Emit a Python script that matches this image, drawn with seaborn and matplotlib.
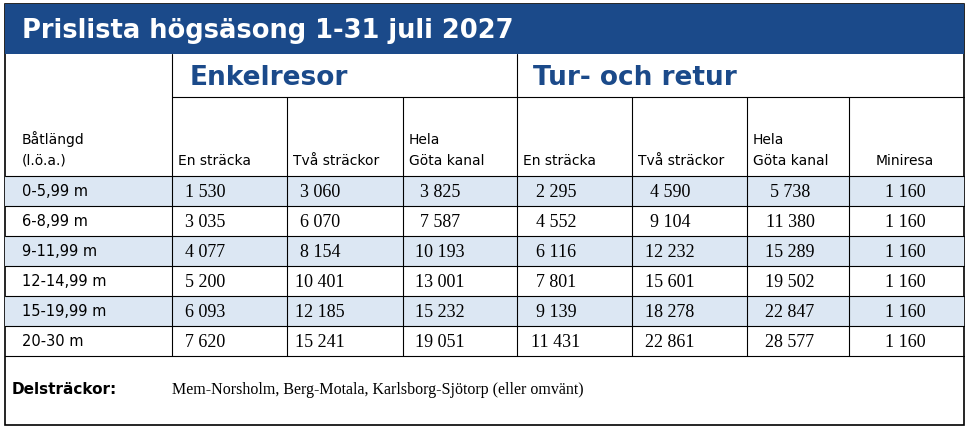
import matplotlib
matplotlib.use("Agg")
import matplotlib.pyplot as plt
import seaborn as sns

sns.set_theme(style="white")
plt.rcParams["text.color"] = "black"

title = "Prislista högsäsong 1-31 juli 2027"
groups = ["Enkelresor", "Tur- och retur"]
col_headers = ["En sträcka", "Två sträckor", "Hela\nGöta kanal", "En sträcka", "Två sträckor", "Hela\nGöta kanal", "Miniresa"]
row_header = "Båtlängd\n(l.ö.a.)"
rows = ["0-5,99 m", "6-8,99 m", "9-11,99 m", "12-14,99 m", "15-19,99 m", "20-30 m"]
values = [
    ["1 530", "3 060", "3 825", "2 295", "4 590", "5 738", "1 160"],
    ["3 035", "6 070", "7 587", "4 552", "9 104", "11 380", "1 160"],
    ["4 077", "8 154", "10 193", "6 116", "12 232", "15 289", "1 160"],
    ["5 200", "10 401", "13 001", "7 801", "15 601", "19 502", "1 160"],
    ["6 093", "12 185", "15 232", "9 139", "18 278", "22 847", "1 160"],
    ["7 620", "15 241", "19 051", "11 431", "22 861", "28 577", "1 160"],
]
footer_label = "Delsträckor:"
footer_text = "Mem-Norsholm, Berg-Motala, Karlsborg-Sjötorp (eller omvänt)"

blue = "#1b4a8a"
band = "#dce7f3"
sans = ["Liberation Sans Narrow", "DejaVu Sans"]
serif = ["Liberation Serif", "DejaVu Serif"]

fig = plt.figure(figsize=(9.7, 4.31), dpi=100)
ax = fig.add_axes([0, 0, 1, 1])
ax.set_xlim(0, 970); ax.set_ylim(431, 0); ax.axis("off")

L, R, T, B = 5, 964, 5, 426
ax.add_patch(plt.Rectangle((L, T), R - L, B - T, fill=False, ec="black", lw=1.2))
ax.add_patch(plt.Rectangle((L, T), R - L, 50, fc=blue, ec="none"))
ax.text(22, 31, title, color="white", fontsize=18.5, fontweight="bold", family=sans, va="center")

col_edges = [172, 287, 403, 517, 632, 747, 849, 964]
centers = [205, 320, 440, 556, 670, 790, 905]
row_top, rh = 177, 30

for i, r in enumerate(rows):
    y0 = row_top + i * rh
    if i % 2 == 0:
        ax.add_patch(plt.Rectangle((L, y0), R - L, rh, fc=band, ec="none"))
    ax.plot([L, R], [y0, y0], color="black", lw=0.8)
    ax.text(22, y0 + rh / 2, r, fontsize=10.5, family=sans, va="center")
    for j, v in enumerate(values[i]):
        ax.text(centers[j], y0 + rh / 2 + 1, v, fontsize=13, family=serif, va="center", ha="center")
y_end = row_top + len(rows) * rh
ax.plot([L, R], [y_end, y_end], color="black", lw=0.8)

ax.plot([172, 172], [55, y_end], color="black", lw=0.8)
ax.plot([517, 517], [55, y_end], color="black", lw=0.8)
for x in [287, 403, 632, 747, 849]:
    ax.plot([x, x], [98, y_end], color="black", lw=0.8)
ax.plot([172, 964], [98, 98], color="black", lw=0.8)

ax.text(190, 78, groups[0], color=blue, fontsize=19, fontweight="bold", family=sans, va="center")
ax.text(533, 78, groups[1], color=blue, fontsize=19, fontweight="bold", family=sans, va="center")

ax.text(22, 168, row_header, fontsize=10, family=sans, va="bottom", linespacing=1.6)
for j, h in enumerate(col_headers):
    x = col_edges[j] + 6 if j < 6 else 905
    ax.text(x, 168, h, fontsize=10, family=sans, va="bottom", ha="left" if j < 6 else "center", linespacing=1.6)

ax.text(12, 390, footer_label, fontsize=11, fontweight="bold", family=sans, va="center")
ax.text(172, 390, footer_text, fontsize=11.5, family=serif, va="center")

fig.savefig("out.png", dpi=100)
